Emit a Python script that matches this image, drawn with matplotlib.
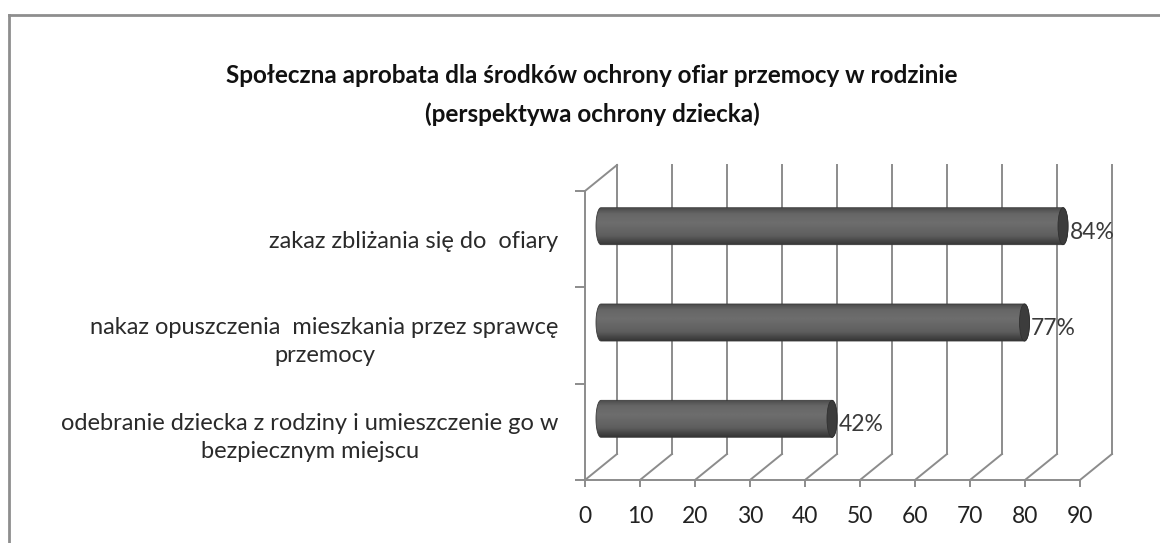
import numpy as np
import matplotlib
matplotlib.use("Agg")
import matplotlib.pyplot as plt
from matplotlib.patches import Polygon, Ellipse
from matplotlib.lines import Line2D

plt.rcParams['font.family'] = ['Lato', 'DejaVu Sans']

title = "Społeczna aprobata dla środków ochrony ofiar przemocy w rodzinie\n(perspektywa ochrony dziecka)"
categories = [
    "odebranie dziecka z rodziny i umieszczenie go w\nbezpiecznym miejscu",
    "nakaz opuszczenia  mieszkania przez sprawcę\nprzemocy",
    "zakaz zbliżania się do  ofiary",
]
values = [42, 77, 84]
xticks = list(range(0, 100, 10))

W, H = 1160, 543
fig = plt.figure(figsize=(W / 100, H / 100), dpi=100)

# front plane of the 3-D box, in pixels
x0_px, x1_px = 585, 1080
y_floor, y_top = 480, 191
ax = fig.add_axes([x0_px / W, (H - y_floor) / H, (x1_px - x0_px) / W, (y_floor - y_top) / H])
xmax, ncat = 90, len(categories)
ux = (x1_px - x0_px) / xmax           # px per value unit
uy = (y_floor - y_top) / ncat         # px per category
ddx, ddy = 32 / ux, 26 / uy           # depth offset of the back wall

grid_c = "#8c8c8c"
lw = 1.4

# back wall gridlines and floor diagonals
for x in xticks:
    ax.plot([x + ddx, x + ddx], [ddy, ncat + ddy], color=grid_c, lw=lw, clip_on=False, zorder=1)
    ax.plot([x, x + ddx], [0, ddy], color=grid_c, lw=lw, clip_on=False, zorder=1)
ax.plot([0, xmax], [0, 0], color=grid_c, lw=lw, clip_on=False, zorder=1)
ax.plot([0, 0], [0, ncat], color=grid_c, lw=lw, clip_on=False, zorder=1)
ax.plot([0, ddx], [ncat, ncat + ddy], color=grid_c, lw=lw, clip_on=False, zorder=1)

# cylinders
bar_h = 37 / uy
ry = bar_h / 2
rx = 5.0 / ux
t = np.linspace(0, 1, 64)
shade = np.interp(t, [0, 0.15, 0.4, 0.75, 1.0], [0.30, 0.40, 0.43, 0.37, 0.21])
grad = np.repeat(shade[:, None], 2, axis=1)

for i, v in enumerate(values):
    yc = i + 0.5 + ddy / 2
    xs, xe = ddx / 2, v + ddx / 2
    a_left = np.linspace(np.pi / 2, 3 * np.pi / 2, 40)
    a_right = np.linspace(-np.pi / 2, np.pi / 2, 40)
    pts = np.vstack([
        np.column_stack([xs + rx * np.cos(a_left), yc + ry * np.sin(a_left)]),
        np.column_stack([xe + rx * np.cos(a_right), yc + ry * np.sin(a_right)]),
    ])
    body = Polygon(pts, closed=True, facecolor="none", edgecolor="#3a3a3a", lw=0.6, zorder=4)
    ax.add_patch(body)
    im = ax.imshow(grad, extent=[xs - rx, xe + rx, yc - ry, yc + ry], origin="upper",
                   cmap="gray", vmin=0, vmax=1, aspect="auto", zorder=3, interpolation="bilinear")
    im.set_clip_path(body)
    ax.add_patch(Ellipse((xe, yc), 2 * rx, bar_h, facecolor="#3c3c3c", edgecolor="#303030",
                         lw=0.6, zorder=5))
    ax.text(xe + rx + 0.3, yc - 6 / uy, f"{v}%", ha="left", va="center",
            fontsize=16.5, color="#3a3a3a", zorder=6, clip_on=False)

ax.set_xlim(0, xmax)
ax.set_ylim(0, ncat)
for s in ax.spines.values():
    s.set_visible(False)
ax.set_facecolor("none")

ax.set_xticks(xticks)
ax.set_xticklabels([str(x) for x in xticks], fontsize=16.5, color="#222222")
ax.tick_params(axis="x", length=5, width=lw, color=grid_c, pad=14)
ax.set_yticks(range(ncat + 1))
ax.set_yticklabels([])
ax.tick_params(axis="y", which="major", length=7, width=lw, color=grid_c)
ax.set_yticks([i + 0.5 for i in range(ncat)], minor=True)
ax.set_yticklabels(categories, minor=True, fontsize=17, color="#2a2a2a")
ax.tick_params(axis="y", which="minor", length=0, pad=19)
for lab in ax.get_yticklabels(minor=True):
    lab.set_multialignment("center")
    lab.set_linespacing(1.45)

fig.text(592 / W, 1 - 95 / H, title, ha="center", va="center", fontsize=17.5,
         fontweight="bold", linespacing=1.75, color="#111111")

# chart area border
fig.add_artist(Line2D([9 / W, 1], [1 - 15 / H, 1 - 15 / H], color="#8e8e8e", lw=2))
fig.add_artist(Line2D([9 / W, 9 / W], [0, 1 - 15 / H], color="#8e8e8e", lw=2))

fig.savefig("out.png", dpi=100)
